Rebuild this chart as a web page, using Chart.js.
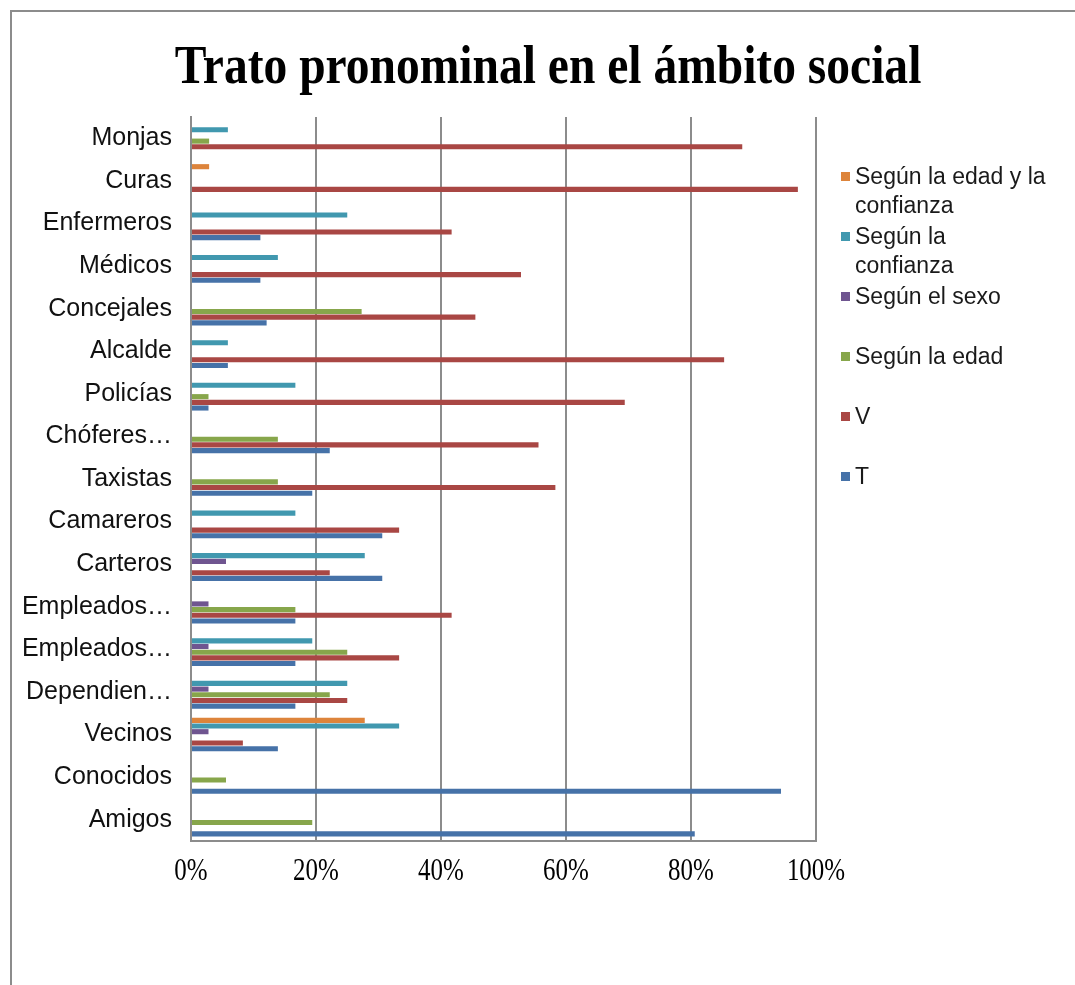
<!DOCTYPE html>
<html>
<head>
<meta charset="utf-8">
<script src="https://cdn.jsdelivr.net/npm/chart.js@4.4.0/dist/chart.umd.min.js"></script>
<style>
  html, body { margin: 0; padding: 0; background: #fff; }
  #wrap { position: relative; width: 1075px; height: 985px; overflow: hidden; }
  #frame { position: absolute; left: 10px; top: 10px; width: 1100px; height: 1000px;
           border-left: 2px solid #8c8c8c; border-top: 2px solid #8c8c8c; }
  #chart { position: absolute; left: 0; top: 0; }
  #title { position: absolute; left: 0; top: 35px; width: 1096px; text-align: center;
           font-family: "Liberation Serif", "Times New Roman", serif; font-weight: bold;
           font-size: 54px; line-height: 60px; color: #000; white-space: nowrap;
           transform: scaleX(0.88); transform-origin: 548px 0; }
  #legend { position: absolute; left: 841px; top: 162px;
            font-family: "Liberation Sans", Arial, sans-serif; font-size: 23px; color: #1a1a1a; }
  .item { position: relative; height: 60px; }
  .box { position: absolute; left: 0; top: 10px; width: 9px; height: 9px; }
  .txt { position: absolute; left: 14px; top: 0; width: 192px; line-height: 29px; }
</style>
</head>
<body>
<div id="wrap">
  <div id="frame"></div>
  <canvas id="chart" width="1075" height="985"></canvas>
  <div id="title">Trato pronominal en el ámbito social</div>
  <div id="legend"></div>
</div>
<script>
  var categories = ['Monjas', 'Curas', 'Enfermeros', 'Médicos', 'Concejales', 'Alcalde', 'Policías',
    'Chóferes…', 'Taxistas', 'Camareros', 'Carteros', 'Empleados…', 'Empleados…', 'Dependien…',
    'Vecinos', 'Conocidos', 'Amigos'];

  var seriesNames = ['Según la edad y la confianza', 'Según la confianza', 'Según el sexo', 'Según la edad', 'V', 'T'];
  var seriesColors = ['#dd843b', '#4198af', '#6f5590', '#87a64b', '#a94744', '#4672a8'];

  var edadConfianza = [0, 2.9, 0, 0, 0, 0, 0, 0, 0, 0, 0, 0, 0, 0, 27.8, 0, 0];
  var confianza = [5.9, 0, 25.0, 13.9, 0, 5.9, 16.7, 0, 0, 16.7, 27.8, 0, 19.4, 25.0, 33.3, 0, 0];
  var sexo = [0, 0, 0, 0, 0, 0, 0, 0, 0, 0, 5.6, 2.8, 2.8, 2.8, 2.8, 0, 0];
  var edad = [2.9, 0, 0, 0, 27.3, 0, 2.8, 13.9, 13.9, 0, 0, 16.7, 25.0, 22.2, 0, 5.6, 19.4];
  var usted = [88.2, 97.1, 41.7, 52.8, 45.5, 85.3, 69.4, 55.6, 58.3, 33.3, 22.2, 41.7, 33.3, 25.0, 8.3, 0, 0];
  var tu = [0, 0, 11.1, 11.1, 12.1, 5.9, 2.8, 22.2, 19.4, 30.6, 30.6, 16.7, 16.7, 16.7, 13.9, 94.4, 80.6];

  var xTicks = [0, 20, 40, 60, 80, 100];

  var seriesValues = [edadConfianza, confianza, sexo, edad, usted, tu];
  var gridGray = '#8c8c8c';

  // Excel-style narrow serif percent labels under the plot
  var condensedTicks = {
    id: 'condensedTicks',
    afterDraw: function (chart) {
      var scale = chart.scales.x;
      var ctx = chart.ctx;
      ctx.save();
      ctx.font = '32px "Liberation Serif", "Times New Roman", serif';
      ctx.fillStyle = '#000';
      ctx.textAlign = 'center';
      ctx.textBaseline = 'middle';
      xTicks.forEach(function (v) {
        ctx.save();
        ctx.translate(scale.getPixelForValue(v), scale.top + 31);
        ctx.scale(0.78, 1);
        ctx.fillText(v + '%', 0, 0);
        ctx.restore();
      });
      ctx.restore();
    }
  };

  new Chart(document.getElementById('chart'), {
    type: 'bar',
    data: {
      labels: categories,
      datasets: seriesNames.map(function (name, i) {
        return {
          label: name,
          data: seriesValues[i],
          backgroundColor: seriesColors[i],
          borderWidth: 0,
          categoryPercentage: 0.8,
          barPercentage: 0.9
        };
      })
    },
    options: {
      indexAxis: 'y',
      responsive: false,
      animation: false,
      layout: { padding: { left: 0, right: 259, top: 117, bottom: 84 } },
      plugins: {
        legend: { display: false },
        tooltip: { enabled: false },
        title: { display: false }
      },
      scales: {
        x: {
          min: 0,
          max: 100,
          afterBuildTicks: function (scale) {
            scale.ticks = xTicks.map(function (v) { return { value: v }; });
          },
          afterFit: function (scale) { scale.height = 60; },
          grid: { color: gridGray, lineWidth: 2, drawTicks: false },
          border: { color: gridGray, width: 2 },
          ticks: { display: false }
        },
        y: {
          afterFit: function (scale) { scale.width = 191; },
          grid: { display: false, drawTicks: false },
          border: { color: gridGray, width: 2 },
          ticks: {
            padding: 19,
            autoSkip: false,
            color: '#111',
            font: { family: '"Liberation Sans", Arial, sans-serif', size: 25 }
          }
        }
      }
    },
    plugins: [condensedTicks]
  });

  var legend = document.getElementById('legend');
  seriesNames.forEach(function (name, i) {
    var item = document.createElement('div');
    item.className = 'item';
    item.innerHTML = '<div class="box" style="background:' + seriesColors[i] + '"></div><div class="txt">' + name + '</div>';
    legend.appendChild(item);
  });
</script>
</body>
</html>
